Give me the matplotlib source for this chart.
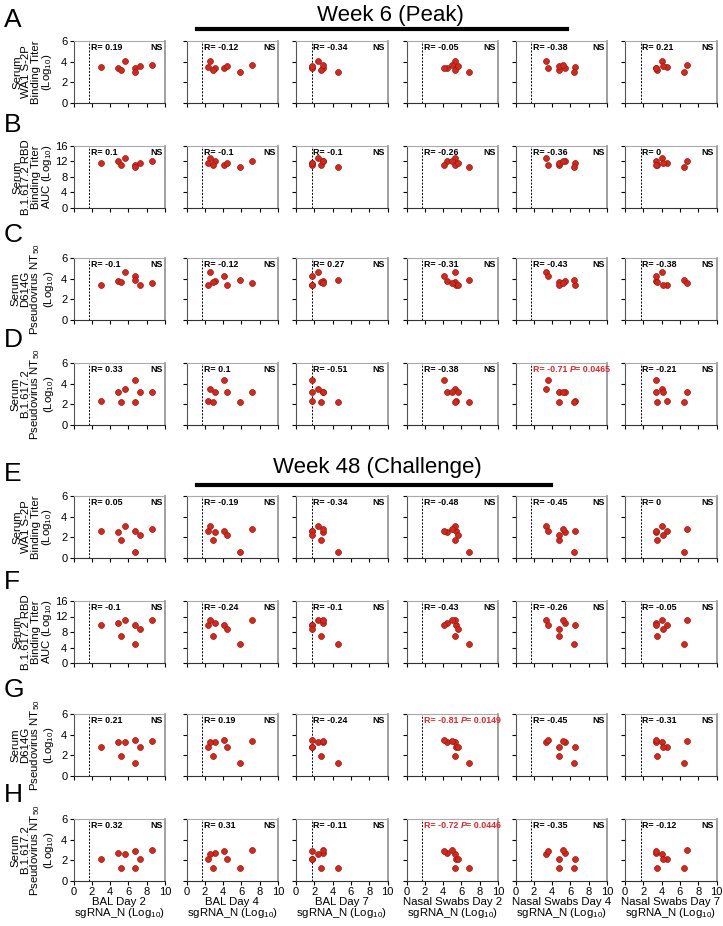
import matplotlib
matplotlib.use('Agg')
import matplotlib.pyplot as plt
from matplotlib.lines import Line2D

plt.rcParams['font.family'] = ['Liberation Sans', 'DejaVu Sans']
plt.rcParams['mathtext.fontset'] = 'custom'
plt.rcParams['mathtext.rm'] = 'Liberation Sans'
plt.rcParams['mathtext.it'] = 'Liberation Sans:italic'
plt.rcParams['mathtext.bf'] = 'Liberation Sans:bold'

# sgRNA_N (Log10) per animal, one list per tissue/day (same 8 animals in every list)
bal_d2 = [3.0, 4.9, 5.2, 5.6, 6.7, 6.7, 7.3, 8.6]
bal_d4 = [2.3, 3.1, 2.95, 2.6, 4.05, 5.85, 4.4, 7.15]
bal_d7 = [1.75, 3.0, 2.7, 2.4, 1.75, 4.6, 1.75, 2.9]
ns_d2 = [5.4, 4.4, 5.25, 5.3, 4.05, 6.85, 5.6, 4.95]
ns_d4 = [6.45, 5.4, 4.7, 3.35, 3.5, 6.35, 4.7, 5.15]
ns_d7 = [4.6, 3.4, 3.5, 4.0, 3.4, 6.4, 4.1, 6.8]
x_cols = [bal_d2, bal_d4, bal_d7, ns_d2, ns_d4, ns_d7]
x_names = ['BAL Day 2', 'BAL Day 4', 'BAL Day 7',
           'Nasal Swabs Day 2', 'Nasal Swabs Day 4', 'Nasal Swabs Day 7']

# serum titers per animal
wa1_w6 = [3.5, 3.4, 3.2, 4.05, 3.4, 3.0, 3.55, 3.65]
rbd_w6 = [11.5, 12.0, 11.2, 13.0, 11.2, 10.5, 11.6, 12.1]
d614g_w6 = [3.4, 3.75, 3.7, 4.6, 4.3, 3.85, 3.4, 3.6]
delta_w6 = [2.35, 3.15, 2.2, 3.45, 4.4, 2.25, 3.2, 3.2]
wa1_w48 = [2.6, 2.5, 1.75, 3.1, 2.6, 0.55, 2.2, 2.85]
rbd_w48 = [9.8, 10.2, 7.0, 11.0, 9.8, 4.8, 8.8, 11.0]
d614g_w48 = [2.8, 3.25, 1.95, 3.25, 3.5, 1.3, 2.85, 3.35]
delta_w48 = [2.15, 2.75, 1.3, 2.6, 2.9, 1.3, 2.15, 3.0]
y_rows = [wa1_w6, rbd_w6, d614g_w6, delta_w6, wa1_w48, rbd_w48, d614g_w48, delta_w48]

row_letters = ['A', 'B', 'C', 'D', 'E', 'F', 'G', 'H']
lab_wa1 = 'Serum\nWA1 S-2P\nBinding Titer\n(Log$_{10}$)'
lab_rbd = 'Serum\nB.1.617.2 RBD\nBinding Titer\nAUC (Log$_{10}$)'
lab_d614g = 'Serum\nD614G\nPseudovirus NT$_{50}$\n(Log$_{10}$)'
lab_delta = 'Serum\nB.1.617.2\nPseudovirus NT$_{50}$\n(Log$_{10}$)'
row_labels = [lab_wa1, lab_rbd, lab_d614g, lab_delta] * 2

r_vals = [
    ['0.19', '-0.12', '-0.34', '-0.05', '-0.38', '0.21'],
    ['0.1', '-0.1', '-0.1', '-0.26', '-0.36', '0'],
    ['-0.1', '-0.12', '0.27', '-0.31', '-0.43', '-0.38'],
    ['0.33', '0.1', '-0.51', '-0.38', '-0.71', '-0.21'],
    ['0.05', '-0.19', '-0.34', '-0.48', '-0.45', '0'],
    ['-0.1', '-0.24', '-0.1', '-0.43', '-0.26', '-0.05'],
    ['0.21', '0.19', '-0.24', '-0.81', '-0.45', '-0.31'],
    ['0.32', '0.31', '-0.11', '-0.72', '-0.35', '-0.12'],
]
p_vals = {(3, 4): '0.0465', (6, 3): '0.0149', (7, 3): '0.0446'}

lod = 1.7

W, H = 723, 926
fig = plt.figure(figsize=(W / 100, H / 100), dpi=100)

col_left = [73.5, 186.5, 296, 406.5, 515.5, 625]
col_w = 91.5
row_top = [41, 146, 258, 363, 496, 601, 714, 819]
row_h = 62

narrow = ['Liberation Sans Narrow', 'Liberation Sans']
red_txt = '#e4262a'
fs_r = 6.4

for r in range(8):
    ymax = 16 if r in (1, 5) else 6
    ystep = 4 if ymax == 16 else 2
    for c in range(6):
        ax = fig.add_axes([col_left[c] / W, 1 - (row_top[r] + row_h) / H,
                           col_w / W, row_h / H])
        ax.scatter(x_cols[c], y_rows[r], s=18, color='#d02a1e',
                   edgecolor='#961812', linewidth=0.5, zorder=3)
        ax.axvline(lod, color='black', lw=0.7, ls=(0, (2, 1.5)))
        ax.set_xlim(0, 10)
        ax.set_ylim(0, ymax)
        ax.set_xticks(range(0, 11, 2))
        ax.set_yticks(range(0, ymax + 1, ystep))
        ax.tick_params(direction='out', length=3, width=0.8, labelsize=8, pad=1.5)
        ax.spines['left'].set_color('#555555')
        ax.spines['bottom'].set_color('#333333')
        ax.spines['top'].set_color('#aaaaaa')
        ax.spines['right'].set_color('#999999')
        ax.spines['right'].set_linewidth(1.3)
        if c > 0:
            ax.set_yticklabels([])
        if r < 7:
            ax.set_xticklabels([])
        else:
            ax.set_xlabel(x_names[c] + '\nsgRNA_N (Log$_{10}$)', fontsize=8.2,
                          labelpad=-0.5, linespacing=0.95)

        sig = (r, c) in p_vals
        col = red_txt if sig else 'black'
        ax.text(0.19, 0.965, 'R= ' + r_vals[r][c], transform=ax.transAxes,
                ha='left', va='top', fontsize=fs_r, fontweight='bold',
                family=narrow, color=col)
        if sig:
            tp = ax.text(0.59, 0.965, 'P', transform=ax.transAxes, ha='left',
                         va='top', fontsize=fs_r, fontweight='bold',
                         fontstyle='italic', family=narrow, color=col)
            ax.annotate('= ' + p_vals[(r, c)], xy=(1, 0), xycoords=tp,
                        ha='left', va='bottom', fontsize=fs_r, fontweight='bold',
                        family=narrow, color=col)
        else:
            ax.text(0.975, 0.965, 'NS', transform=ax.transAxes, ha='right',
                    va='top', fontsize=fs_r, fontweight='bold', family=narrow)

    yc = 1 - (row_top[r] + row_h / 2) / H
    fig.text(33 / W, yc, row_labels[r], rotation=90, ha='center', va='center',
             fontsize=8.2, linespacing=0.9, multialignment='center')

letter_y = [20, 125, 235, 340, 474, 582, 690, 795]
for r in range(8):
    fig.text(4 / W, 1 - letter_y[r] / H, row_letters[r], ha='left', va='center',
             fontsize=19)

fig.text(390 / W, 1 - 15 / H, 'Week 6 (Peak)', ha='center', va='center', fontsize=16)
fig.add_artist(Line2D([197 / W, 567 / W], [1 - 29 / H] * 2, lw=3, color='black'))
fig.text(377 / W, 1 - 467 / H, 'Week 48 (Challenge)', ha='center', va='center',
         fontsize=16)
fig.add_artist(Line2D([197 / W, 551 / W], [1 - 485 / H] * 2, lw=3, color='black'))

fig.savefig('out.png', dpi=100)
